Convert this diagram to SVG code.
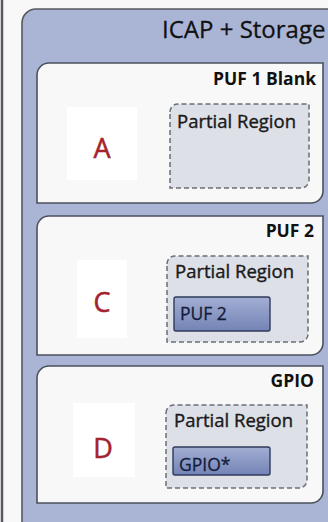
<svg xmlns="http://www.w3.org/2000/svg" width="328" height="522" viewBox="0 0 328 522">
  <style>
    .panel { fill: #f8f8f8; stroke: #4b505c; stroke-width: 1.6; }
    .region { fill: #dde0e7; stroke: #6a6d75; stroke-width: 1.5; stroke-dasharray: 5 3; }
    .core { fill: url(#coreFill); stroke: #2f3a5c; stroke-width: 1.4; }
    .tag { font-family: "Open Sans", "Liberation Sans", sans-serif; font-weight: bold; font-size: 17.5px; fill: #111; text-anchor: end; }
    .rlabel { font-family: "Open Sans", "Liberation Sans", sans-serif; font-size: 18.5px; fill: #1a1a1a; stroke: #1a1a1a; stroke-width: 0.4; }
    .clabel { font-family: "Open Sans", "Liberation Sans", sans-serif; font-size: 17.5px; fill: #141c3a; stroke: #141c3a; stroke-width: 0.3; }
    .letter { font-family: "Open Sans", "Liberation Sans", sans-serif; font-size: 27px; fill: #a3222b; stroke: #a3222b; stroke-width: 0.5; text-anchor: middle; }
    .pad { fill: #ffffff; }
  </style>
  <defs>
    <linearGradient id="coreFill" x1="0" y1="0" x2="0" y2="1">
      <stop offset="0" stop-color="#a3aed3"/>
      <stop offset="1" stop-color="#7383b5"/>
    </linearGradient>
  </defs>

  <!-- page background and left rule -->
  <rect x="0" y="0" width="328" height="522" fill="#f8f8f8"/>
  <line x1="2" y1="0" x2="2" y2="522" stroke="#55585e" stroke-width="2.5"/>

  <!-- ICAP + Storage container -->
  <g id="icap-storage">
    <path d="M22,540 V23 A14 14 0 0 1 36,9 H340 V540 Z" fill="#aab5d6" stroke="#55585e" stroke-width="1.6"/>
    <text x="162" y="38" font-family="'Open Sans', 'Liberation Sans', sans-serif" font-size="24" fill="#111" stroke="#111" stroke-width="0.3">ICAP + Storage</text>
  </g>

  <!-- Slot A: PUF 1 Blank -->
  <g id="slot-a">
    <path class="panel" d="M37,75 A12 12 0 0 1 49,63 H323 V191 A12 12 0 0 1 311,203 H37 Z"/>
    <text class="tag" x="316" y="85">PUF 1 Blank</text>
    <rect class="pad" x="67" y="107" width="70" height="73"/>
    <text class="letter" x="102" y="158">A</text>
    <g id="region-a">
      <path class="region" d="M170,112 A8 8 0 0 1 178,104 H309 V180 A8 8 0 0 1 301,188 H170 Z"/>
      <text class="rlabel" x="177" y="128">Partial Region</text>
    </g>
  </g>

  <!-- Slot C: PUF 2 -->
  <g id="slot-c">
    <path class="panel" d="M37,228 A12 12 0 0 1 49,216 H323 V343 A12 12 0 0 1 311,355 H37 Z"/>
    <text class="tag" x="314" y="237">PUF 2</text>
    <rect class="pad" x="77" y="260" width="50" height="78"/>
    <text class="letter" x="102" y="312">C</text>
    <g id="region-c">
      <path class="region" d="M167,264 A8 8 0 0 1 175,256 H308 V334 A8 8 0 0 1 300,342 H167 Z"/>
      <text class="rlabel" x="175" y="278">Partial Region</text>
      <rect class="core" x="174" y="297" width="96" height="34" rx="2"/>
      <text class="clabel" x="180" y="320">PUF 2</text>
    </g>
  </g>

  <!-- Slot D: GPIO -->
  <g id="slot-d">
    <path class="panel" d="M37,378 A12 12 0 0 1 49,366 H323 V491 A12 12 0 0 1 311,503 H37 Z"/>
    <text class="tag" x="314" y="387">GPIO</text>
    <rect class="pad" x="73" y="403" width="62" height="74"/>
    <text class="letter" x="103" y="458">D</text>
    <g id="region-d">
      <path class="region" d="M166,413 A8 8 0 0 1 174,405 H307 V480 A8 8 0 0 1 299,488 H166 Z"/>
      <text class="rlabel" x="174" y="427">Partial Region</text>
      <rect class="core" x="173" y="447" width="97" height="28" rx="2"/>
      <text class="clabel" x="179" y="471">GPIO*</text>
    </g>
  </g>

  <!-- connectors: none drawn between slots -->
  <g id="connectors"/>
</svg>
